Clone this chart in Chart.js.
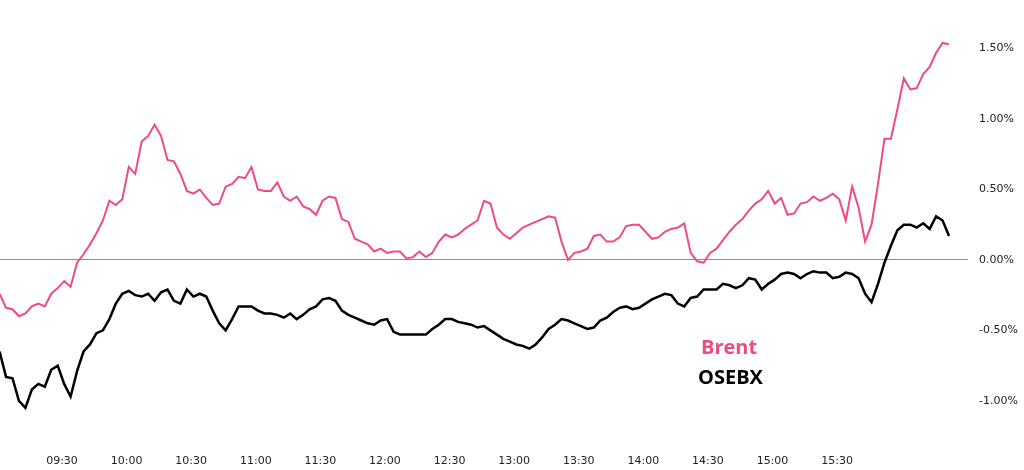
<!DOCTYPE html>
<html>
<head>
<meta charset="utf-8">
<script src="https://cdn.jsdelivr.net/npm/chart.js@4/dist/chart.umd.min.js"></script>
<style>
  html, body { margin: 0; padding: 0; background: #fff; }
  #wrap { position: relative; width: 1024px; height: 470px; }
  .lg { position: absolute; font-family: "Open Sans", sans-serif; font-weight: 700; font-size: 20px; line-height: 20px; white-space: nowrap; }
</style>
</head>
<body>
<div id="wrap">
  <canvas id="c" width="1024" height="470"></canvas>
  <div class="lg" id="lgBrent" style="left:701px; top:337px; color:#ef4b7f;">Brent</div>
  <div class="lg" id="lgOsebx" style="left:698px; top:367px; color:#000;">OSEBX</div>
</div>
<script>
// Time axis: minutes since midnight, one reading every 3 minutes from 09:01
const startMinute = 541;
const stepMinutes = 3;

// Series values (% change)
const brentValues = [
  -0.24,-0.34,-0.35,-0.40,-0.38,-0.33,-0.31,-0.33,-0.24,-0.20,
  -0.15,-0.19,-0.02,0.04,0.11,0.19,0.28,0.42,0.39,0.43,
  0.66,0.61,0.84,0.88,0.96,0.88,0.71,0.70,0.61,0.49,
  0.47,0.50,0.44,0.39,0.40,0.52,0.54,0.59,0.58,0.66,
  0.50,0.49,0.49,0.55,0.45,0.42,0.45,0.38,0.36,0.32,
  0.42,0.45,0.44,0.29,0.27,0.15,0.13,0.11,0.06,0.08,
  0.05,0.06,0.06,0.01,0.02,0.06,0.02,0.05,0.13,0.18,
  0.16,0.18,0.22,0.25,0.28,0.42,0.40,0.23,0.18,0.15,
  0.19,0.23,0.25,0.27,0.29,0.31,0.30,0.13,0.00,0.05,
  0.06,0.08,0.17,0.18,0.13,0.13,0.16,0.24,0.25,0.25,
  0.20,0.15,0.16,0.20,0.22,0.23,0.26,0.05,-0.01,-0.02,
  0.05,0.08,0.14,0.20,0.25,0.29,0.35,0.40,0.43,0.49,
  0.40,0.44,0.32,0.33,0.40,0.41,0.45,0.42,0.44,0.47,
  0.43,0.28,0.52,0.37,0.13,0.25,0.54,0.86,0.86,1.07,
  1.29,1.21,1.22,1.32,1.37,1.47,1.54,1.53
];
const osebxValues = [
  -0.65,-0.83,-0.84,-1.00,-1.05,-0.92,-0.88,-0.90,-0.78,-0.75,
  -0.88,-0.97,-0.79,-0.65,-0.60,-0.52,-0.50,-0.42,-0.31,-0.24,
  -0.22,-0.25,-0.26,-0.24,-0.29,-0.23,-0.21,-0.29,-0.31,-0.21,
  -0.26,-0.24,-0.26,-0.36,-0.45,-0.50,-0.42,-0.33,-0.33,-0.33,
  -0.36,-0.38,-0.38,-0.39,-0.41,-0.38,-0.42,-0.39,-0.35,-0.33,
  -0.28,-0.27,-0.29,-0.36,-0.39,-0.41,-0.43,-0.45,-0.46,-0.43,
  -0.42,-0.51,-0.53,-0.53,-0.53,-0.53,-0.53,-0.49,-0.46,-0.42,
  -0.42,-0.44,-0.45,-0.46,-0.48,-0.47,-0.50,-0.53,-0.56,-0.58,
  -0.60,-0.61,-0.63,-0.60,-0.55,-0.49,-0.46,-0.42,-0.43,-0.45,
  -0.47,-0.49,-0.48,-0.43,-0.41,-0.37,-0.34,-0.33,-0.35,-0.34,
  -0.31,-0.28,-0.26,-0.24,-0.25,-0.31,-0.33,-0.27,-0.26,-0.21,
  -0.21,-0.21,-0.17,-0.18,-0.20,-0.18,-0.13,-0.14,-0.21,-0.17,
  -0.14,-0.10,-0.09,-0.10,-0.13,-0.10,-0.08,-0.09,-0.09,-0.13,
  -0.12,-0.09,-0.10,-0.13,-0.24,-0.30,-0.17,-0.02,0.10,0.21,
  0.25,0.25,0.23,0.26,0.22,0.31,0.28,0.17
];

// Tick labels
const xTickMinutes = [570, 600, 630, 660, 690, 720, 750, 780, 810, 840, 870, 900, 930];
const yTickValues = [1.5, 1.0, 0.5, 0.0, -0.5, -1.0];

const toPoints = vals => vals.map((v, i) => ({ x: startMinute + i * stepMinutes, y: v }));
const fmtTime = m => String(Math.floor(m / 60)).padStart(2, '0') + ':' + String(m % 60).padStart(2, '0');

new Chart(document.getElementById('c'), {
  type: 'line',
  data: {
    datasets: [
      { label: 'Brent', data: toPoints(brentValues), borderColor: '#ef4b7f', borderWidth: 2, pointRadius: 0, tension: 0, fill: false },
      { label: 'OSEBX', data: toPoints(osebxValues), borderColor: '#000000', borderWidth: 2.5, pointRadius: 0, tension: 0, fill: false }
    ]
  },
  options: {
    responsive: false,
    animation: false,
    events: [],
    layout: { padding: 0 },
    plugins: { legend: { display: false }, tooltip: { enabled: false } },
    scales: {
      x: {
        type: 'linear',
        min: 541.2,
        max: 990.8,
        afterBuildTicks: s => { s.ticks = xTickMinutes.map(v => ({ value: v })); },
        afterFit: s => { s.height = 22; },
        grid: { display: false, drawTicks: false },
        border: { display: false },
        ticks: {
          autoSkip: false, maxRotation: 0, padding: 7,
          color: '#222', font: { family: 'DejaVu Sans', size: 11 },
          callback: v => fmtTime(v)
        }
      },
      y: {
        position: 'right',
        min: -1.335,
        max: 1.720,
        afterBuildTicks: s => { s.ticks = yTickValues.map(v => ({ value: v })); },
        afterFit: s => { s.width = 56; },
        grid: {
          drawTicks: false,
          tickLength: 0,
          lineWidth: 1,
          color: ctx => (ctx.tick && ctx.tick.value === 0) ? '#8c8c8c' : 'rgba(0,0,0,0)'
        },
        border: { display: false },
        ticks: {
          padding: 11,
          color: '#222', font: { family: 'DejaVu Sans', size: 11 },
          callback: v => v.toFixed(2) + '%'
        }
      }
    }
  }
});
</script>
</body>
</html>
